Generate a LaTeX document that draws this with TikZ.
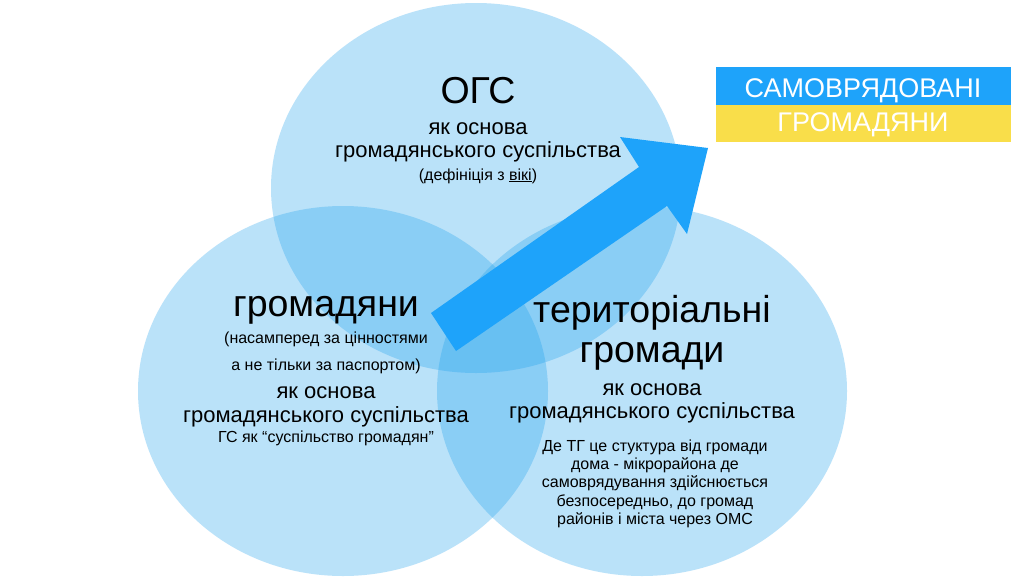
\documentclass[tikz,border=0pt]{standalone}
\usepackage{fontspec}
\setmainfont{Liberation Sans}
\usetikzlibrary{shapes.geometric}
\definecolor{venn}{RGB}{28,160,238}
\definecolor{flagblue}{RGB}{30,163,250}
\definecolor{flagyellow}{RGB}{249,222,74}
\begin{document}
\begin{tikzpicture}[x=1pt,y=-1pt,
  ring/.style={ellipse,fill=venn,fill opacity=0.3,minimum width=410pt,minimum height=370pt,inner sep=0pt},
  lbl/.style={anchor=base,inner sep=0pt},
  big/.style={lbl,font=\fontsize{37.5}{42}\selectfont},
  mid/.style={lbl,font=\fontsize{22}{26}\selectfont},
  small/.style={lbl,font=\fontsize{16}{19}\selectfont}]

\fill[white] (0,0) rectangle (1024,579);
\useasboundingbox (0,0) rectangle (1024,579);

\node[ring] (ogsring) at (476,188) {};
\node[ring] (hromring) at (343,391) {};
\node[ring] (tgring) at (642,391) {};

\node[big] (ogs) at (478,103) {ОГС};
\node[mid] (ogs1) at (478,134) {як основа};
\node[mid] (ogs2) at (478,157) {громадянського суспільства};
\node[small] (ogs3) at (478,180) {(дефініція з \underline{вікі})};

\node[big] (hrom) at (326,316) {громадяни};
\node[small] (hrom1) at (326,343) {(насамперед за цінностями};
\node[small] (hrom2) at (326,370) {а не тільки за паспортом)};
\node[mid] (hrom3) at (326,398) {як основа};
\node[mid] (hrom4) at (326,422) {громадянського суспільства};
\node[small] (hrom5) at (326,442) {ГС як “суспільство громадян”};

\node[big] (tg) at (652,322) {територіальні};
\node[big] (tg1) at (652,362) {громади};
\node[mid] (tg2) at (652,395) {як основа};
\node[mid] (tg3) at (652,418) {громадянського суспільства};
\node[small] (tg4) at (655,451) {Де ТГ це стуктура від громади};
\node[small] (tg5) at (655,469) {дома - мікрорайона де};
\node[small] (tg6) at (655,487) {самоврядування здійснюється};
\node[small] (tg7) at (655,506) {безпосередньо, до громад};
\node[small] (tg8) at (655,524) {районів і міста через ОМС};

\fill[flagblue] (431,313) -- (639,167) -- (620,137) -- (708,148) -- (687,234) -- (667,206) -- (456,351) -- cycle;

\node[fill=flagblue,minimum width=295pt,minimum height=38pt,inner sep=0pt] (top) at (863.5,86) {};
\node[fill=flagyellow,minimum width=295pt,minimum height=37pt,inner sep=0pt] (bottom) at (863.5,123.5) {};
\node[lbl,white,font=\fontsize{27}{30}\selectfont] (samo) at (863,97) {САМОВРЯДОВАНІ};
\node[lbl,white,font=\fontsize{27}{30}\selectfont] (hromadiany) at (863,131) {ГРОМАДЯНИ};

\end{tikzpicture}
\end{document}
